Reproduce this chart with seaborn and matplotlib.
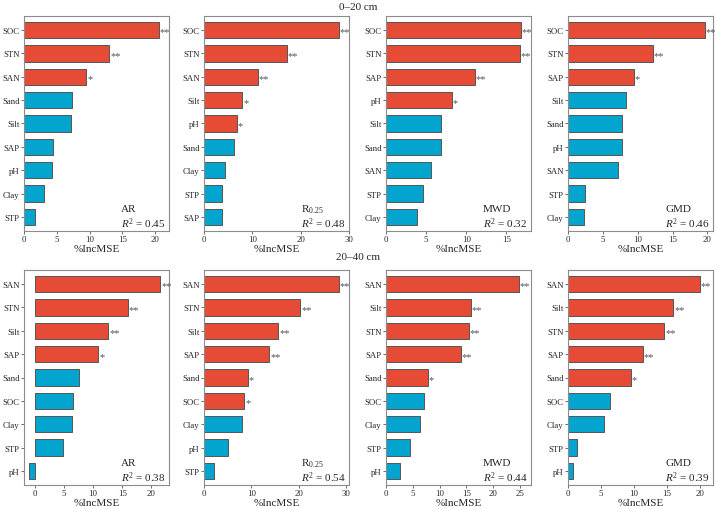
import matplotlib
matplotlib.use("Agg")
import matplotlib.pyplot as plt
import seaborn as sns
import pandas as pd

# ---------------- data ----------------
# 0-20 cm
ar1_vars = ["SOC", "STN", "SAN", "Sand", "Silt", "SAP", "pH", "Clay", "STP"]
ar1_vals = [20.6, 13.0, 9.5, 7.3, 7.2, 4.4, 4.3, 3.0, 1.7]
ar1_sig = ["**", "**", "*", "", "", "", "", "", ""]

r1_vars = ["SOC", "STN", "SAN", "Silt", "pH", "Sand", "Clay", "STP", "SAP"]
r1_vals = [27.9, 17.2, 11.1, 7.9, 6.8, 6.2, 4.4, 3.8, 3.7]
r1_sig = ["**", "**", "**", "*", "*", "", "", "", ""]

mwd1_vars = ["SOC", "STN", "SAP", "pH", "Silt", "Sand", "SAN", "STP", "Clay"]
mwd1_vals = [16.8, 16.7, 11.1, 8.2, 6.9, 6.8, 5.6, 4.6, 3.8]
mwd1_sig = ["**", "**", "**", "*", "", "", "", "", ""]

gmd1_vars = ["SOC", "STN", "SAP", "Silt", "Sand", "pH", "SAN", "STP", "Clay"]
gmd1_vals = [19.6, 12.2, 9.4, 8.3, 7.7, 7.7, 7.2, 2.4, 2.3]
gmd1_sig = ["**", "**", "*", "", "", "", "", "", ""]

# 20-40 cm
ar2_vars = ["SAN", "STN", "Silt", "SAP", "Sand", "SOC", "Clay", "STP", "pH"]
ar2_vals = [21.5, 15.9, 12.6, 10.9, 7.6, 6.5, 6.4, 4.8, -1.0]
ar2_sig = ["**", "**", "**", "*", "", "", "", "", ""]

r2_vars = ["SAN", "STN", "Silt", "SAP", "Sand", "SOC", "Clay", "pH", "STP"]
r2_vals = [28.5, 20.3, 15.7, 13.8, 9.2, 8.5, 8.0, 5.0, 2.1]
r2_sig = ["**", "**", "**", "**", "*", "*", "", "", ""]

mwd2_vars = ["SAN", "Silt", "STN", "SAP", "Sand", "SOC", "Clay", "STP", "pH"]
mwd2_vals = [24.8, 15.9, 15.5, 14.0, 7.8, 7.1, 6.3, 4.4, 2.7]
mwd2_sig = ["**", "**", "**", "**", "*", "", "", "", ""]

gmd2_vars = ["SAN", "Silt", "STN", "SAP", "Sand", "SOC", "Clay", "STP", "pH"]
gmd2_vals = [20.0, 16.0, 14.6, 11.4, 9.5, 6.3, 5.5, 1.3, 0.8]
gmd2_sig = ["**", "**", "**", "**", "*", "", "", "", ""]

panel_names = ["AR", "R$_{0.25}$", "MWD", "GMD"]
r2_top = ["0.45", "0.48", "0.32", "0.46"]
r2_bottom = ["0.38", "0.54", "0.44", "0.39"]
depth_titles = ["0\u201320 cm", "20\u201340 cm"]

top_panels = [(ar1_vars, ar1_vals, ar1_sig), (r1_vars, r1_vals, r1_sig),
              (mwd1_vars, mwd1_vals, mwd1_sig), (gmd1_vars, gmd1_vals, gmd1_sig)]
bottom_panels = [(ar2_vars, ar2_vals, ar2_sig), (r2_vars, r2_vals, r2_sig),
                 (mwd2_vars, mwd2_vals, mwd2_sig), (gmd2_vars, gmd2_vals, gmd2_sig)]

top_xlim = [(0, 22.1), (0, 30), (0, 18.06), (0, 20.8)]
bottom_xlim = [(-1.83, 23.0), (0, 30.6), (0, 27.1), (0, 22.0)]
top_ticks = [[0, 5, 10, 15, 20], [0, 10, 20, 30], [0, 5, 10, 15], [0, 5, 10, 15, 20]]
bottom_ticks = [[0, 5, 10, 15, 20], [0, 10, 20, 30], [0, 5, 10, 15, 20, 25], [0, 5, 10, 15, 20]]

# ---------------- style ----------------
sns.set_style("white")
plt.rcParams["font.family"] = ["Liberation Serif", "DejaVu Serif"]
plt.rcParams["mathtext.fontset"] = "custom"
plt.rcParams["mathtext.rm"] = "Liberation Serif"
plt.rcParams["mathtext.it"] = "Liberation Serif:italic"

RED = "#E64B35"
BLUE = "#03A5CF"
EDGE = "#555555"
FRAME = "#8c8c8c"

fig = plt.figure(figsize=(7.17, 5.10), dpi=100)

lefts_px = [24, 204, 386, 568]
width_px = 145
rows = [(17, 232), (271, 486)]
W, H = 717, 510


def draw(ax, vars_, vals, sig, xlim, ticks, name, r2):
    df = pd.DataFrame({"var": vars_, "val": vals,
                       "sig": [s != "" for s in sig]})
    sns.barplot(data=df, y="var", x="val", hue="sig", order=vars_,
                palette={True: RED, False: BLUE}, dodge=False, width=0.7,
                saturation=1, edgecolor=EDGE, linewidth=0.7, legend=False,
                ax=ax, orient="h")
    for i, (v, s) in enumerate(zip(vals, sig)):
        if s:
            ax.annotate(s, xy=(max(v, 0), i), xytext=(0.6, -1.5),
                        textcoords="offset points", ha="left", va="center",
                        fontsize=7.5, color="#555555")
    ax.set_xlim(*xlim)
    ax.set_ylim(len(vars_) - 0.4, -0.6)
    ax.set_xticks(ticks)
    ax.set_xlabel("%IncMSE", fontsize=8, labelpad=0.5)
    ax.set_ylabel("")
    ax.tick_params(axis="both", labelsize=6.3, length=2.2, width=0.6,
                   color="#555555", pad=1, left=True, bottom=True)
    for sp in ax.spines.values():
        sp.set_color(FRAME)
        sp.set_linewidth(0.8)
    ax.text(0.67, 0.105, name, transform=ax.transAxes, fontsize=8,
            ha="left", va="center")
    ax.text(0.67, 0.040, "$R^2$ = " + r2, transform=ax.transAxes,
            fontsize=8, ha="left", va="center")


for r, (panels, xlims, tks, r2s) in enumerate([
        (top_panels, top_xlim, top_ticks, r2_top),
        (bottom_panels, bottom_xlim, bottom_ticks, r2_bottom)]):
    top_px, bot_px = rows[r]
    for c in range(4):
        ax = fig.add_axes([lefts_px[c] / W, 1 - bot_px / H,
                           width_px / W, (bot_px - top_px) / H])
        vars_, vals, sig = panels[c]
        draw(ax, vars_, vals, sig, xlims[c], tks[c], panel_names[c], r2s[c])

fig.text(0.5, 1 - 8 / H, depth_titles[0], ha="center", va="center", fontsize=8)
fig.text(0.5, 1 - 258 / H, depth_titles[1], ha="center", va="center", fontsize=8)

fig.savefig("out.png", dpi=100)
